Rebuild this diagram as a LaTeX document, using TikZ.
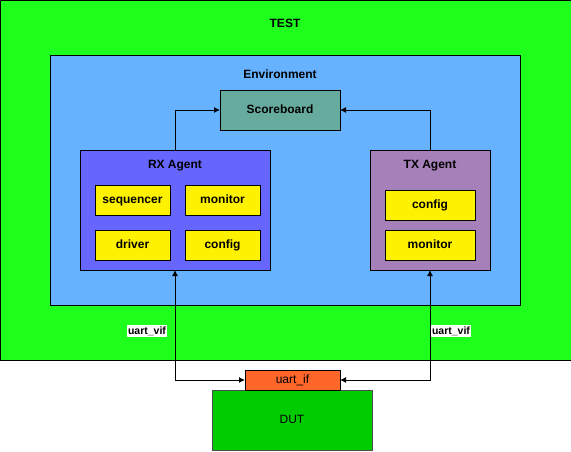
\documentclass[tikz,border=0pt]{standalone}
\usepackage{fontspec}
\setmainfont{Liberation Sans}
\usepackage{tikz}
\usetikzlibrary{arrows.meta,calc,positioning}
\definecolor{testgreen}{RGB}{30,255,30}
\definecolor{envblue}{RGB}{102,178,255}
\definecolor{sbteal}{RGB}{103,171,159}
\definecolor{rxblue}{RGB}{102,102,255}
\definecolor{txpurple}{RGB}{166,128,184}
\definecolor{ifgreen}{RGB}{0,204,0}
\definecolor{iforange}{RGB}{255,102,41}
\tikzset{
  box/.style = {draw=black, line width=1pt, inner sep=0pt, outer sep=0pt,
    text height=9.4pt, text depth=1.6pt,
    font=\fontsize{12}{14}\selectfont\bfseries},
  unit/.style = {box, fill=yellow, minimum width=75pt, minimum height=30pt},
  lbl/.style = {inner sep=0pt, text height=9.4pt, text depth=1.6pt,
    font=\fontsize{12}{14}\selectfont\bfseries},
  arr/.style = {line width=1pt, -{Latex[length=6pt,width=6pt]}},
  vif/.style = {fill=white, inner sep=1pt, text height=8.4pt, text depth=2pt,
    font=\fontsize{10.5}{12}\selectfont\bfseries}
}

\begin{document}
\begin{tikzpicture}[x=1pt,y=-1pt]
\useasboundingbox (0,0) rectangle (571,451);

  % containers
  \node[box, fill=testgreen, minimum width=571pt, minimum height=360pt] (test) at (285.5,180) {};
  \node[lbl] at (285,24) {TEST};
  \node[box, fill=envblue, minimum width=470pt, minimum height=250pt] (env) at (285,180) {};
  \node[lbl] at (280,75) {Environment};

  \node[box, fill=sbteal, minimum width=120pt, minimum height=40pt] (scoreboard) at (280,110) {Scoreboard};

  \node[box, fill=rxblue, minimum width=190pt, minimum height=120pt] (rxagent) at (175,210) {};
  \node[lbl] at (175,165) {RX Agent};
  \node[box, fill=txpurple, minimum width=120pt, minimum height=120pt] (txagent) at (430,210) {};
  \node[lbl] at (430,165) {TX Agent};

  % agent parts
  \foreach \nm/\x/\y/\txt in {seqr/132.5/200/sequencer, rxmon/222.5/200/monitor,
                              drv/132.5/245/driver, rxcfg/222.5/245/config}{
    \node[unit] (\nm) at (\x,\y) {\txt};
  }
  \node[unit, minimum width=90pt] (txcfg) at (430,205) {config};
  \node[unit, minimum width=90pt] (txmon) at (430,245) {monitor};

  % dut
  \node[box, fill=ifgreen, draw=black!70, font=\fontsize{12}{14}\selectfont, minimum width=160pt, minimum height=60pt] (dut) at (292,420) {DUT};
  \node[box, fill=iforange, font=\fontsize{12}{14}\selectfont, minimum width=95pt, minimum height=20pt] (uartif) at (292.5,380) {uart\_if};

  % connections
  \draw[arr] (rxagent.north) |- (scoreboard.west);
  \draw[arr] (txagent.north) |- (scoreboard.east);
  \draw[arr, {Latex[length=6pt,width=6pt]}-{Latex[length=6pt,width=6pt]}] (rxagent.south) |- (uartif.west);
  \draw[arr, {Latex[length=6pt,width=6pt]}-{Latex[length=6pt,width=6pt]}] (txagent.south) |- (uartif.east);

  \node[vif] (rxvif) at (147,331) {uart\_vif};
  \node[vif] (txvif) at (451,331) {uart\_vif};

\end{tikzpicture}
\end{document}
